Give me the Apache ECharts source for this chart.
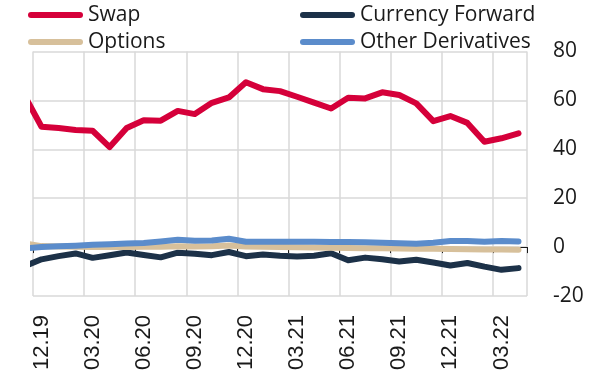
<!DOCTYPE html>
<html>
<head>
<meta charset="utf-8">
<script src="https://cdn.jsdelivr.net/npm/echarts@6/dist/echarts.min.js"></script>
<style>
  html, body { margin: 0; padding: 0; background: #ffffff; }
  #chart { width: 596px; height: 378px; }
</style>
</head>
<body>
<div id="chart"></div>
<script>
// Monthly positions (bn), 11.19 – 04.22; 11.19 sits just left of the visible range
const months = ['11.19','12.19','01.20','02.20','03.20','04.20','05.20','06.20','07.20','08.20','09.20','10.20','11.20','12.20',
  '01.21','02.21','03.21','04.21','05.21','06.21','07.21','08.21','09.21','10.21','11.21','12.21','01.22','02.22','03.22','04.22'];
const swap = [62, 49.2, 48.7, 47.9, 47.6, 40.9, 48.7, 51.9, 51.7, 55.7, 54.4, 59.0, 61.2, 67.4, 64.6, 63.8,
  61.5, 59.1, 56.7, 61.1, 60.8, 63.3, 62.2, 58.8, 51.5, 53.6, 50.8, 43.1, 44.5, 46.5];
const currencyForward = [-7.9, -5.0, -3.7, -2.6, -4.4, -3.3, -2.2, -3.2, -4.2, -2.3, -2.7, -3.3, -2.0, -3.7, -3.0, -3.5,
  -3.8, -3.5, -2.5, -5.4, -4.3, -5.0, -5.9, -5.2, -6.3, -7.5, -6.5, -8.0, -9.3, -8.6];
const options = [1.5, 0.4, 0.2, 0.1, 0.0, 0.0, 0.0, 0.1, 0.1, 0.3, 0.2, 0.3, 0.7, 0.2, 0.1, 0.0,
  -0.1, -0.2, -0.3, -0.4, -0.5, -0.5, -0.6, -0.7, -0.7, -0.8, -0.9, -1.0, -1.0, -1.1];
const otherDerivatives = [-0.6, 0.0, 0.3, 0.6, 1.0, 1.2, 1.5, 1.7, 2.3, 3.0, 2.6, 2.7, 3.4, 2.2, 2.2, 2.2,
  2.2, 2.2, 2.1, 2.1, 2.0, 1.8, 1.6, 1.4, 1.8, 2.5, 2.5, 2.2, 2.5, 2.3];
const yTicks = { min: -20, max: 80, step: 20 };

const axisMonths = months.slice(1);
const colors = {
  swap: '#d5003a',
  fwd: '#1c3148',
  opt: '#d7c09b',
  other: '#5b8ccb',
  grid: '#d9d9d9'
};

// x position: 12.19 -> 0; earlier months get negative positions and are clipped
const toPairs = vals => vals.map((v, i) => [i - 1, v]);

const lineIcon = 'path://M3,0 L52,0 A3,3 0 0 1 52,6 L3,6 A3,3 0 0 1 3,0 Z';
const legendText = { fontFamily: 'Open Sans', fontSize: 21, color: '#1a1a1a', lineHeight: 22 };

function lineSeries(name, vals, color) {
  return {
    name, type: 'line', xAxisIndex: 2, yAxisIndex: 0,
    data: toPairs(vals), symbol: 'none', clip: true,
    lineStyle: { color, width: 6, cap: 'round', join: 'round' },
    itemStyle: { color }
  };
}

const chart = echarts.init(document.getElementById('chart'), null, { renderer: 'canvas' });
chart.setOption({
  animation: false,
  grid: { left: 33, right: 69, top: 51.5, bottom: 82, containLabel: false },
  legend: [
    {
      orient: 'vertical', left: 28, top: 4, padding: 0, itemWidth: 55, itemHeight: 6, itemGap: 5,
      icon: lineIcon, textStyle: legendText, selectedMode: false,
      data: ['Swap', 'Options']
    },
    {
      orient: 'vertical', left: 300, top: 4, padding: 0, itemWidth: 55, itemHeight: 6, itemGap: 5,
      icon: lineIcon, textStyle: legendText, selectedMode: false,
      data: ['Currency Forward', 'Other Derivatives']
    }
  ],
  xAxis: [
    {
      // month labels and vertical grid lines
      type: 'category', data: axisMonths, boundaryGap: true, position: 'bottom',
      axisLine: { show: false, onZero: false },
      axisTick: { show: false },
      axisLabel: {
        interval: 2, rotate: 90, margin: 19,
        fontFamily: 'Liberation Sans', fontSize: 22, color: '#1a1a1a'
      },
      splitLine: { show: true, interval: 2, lineStyle: { color: colors.grid, width: 1.5 } }
    },
    {
      // axis line through zero with quarterly ticks
      type: 'category', data: axisMonths, boundaryGap: true, position: 'bottom',
      axisLine: { show: true, onZero: true, lineStyle: { color: '#1a1a1a', width: 1 } },
      axisTick: { show: true, interval: 2, length: 6, lineStyle: { color: '#1a1a1a', width: 1 } },
      axisLabel: { show: false },
      splitLine: { show: false }
    },
    {
      // numeric month scale used by the series
      type: 'value', show: false, min: -0.5, max: axisMonths.length - 0.5,
      axisLine: { onZero: false }, splitLine: { show: false }
    }
  ],
  yAxis: [{
    type: 'value', position: 'right',
    min: yTicks.min, max: yTicks.max, interval: yTicks.step,
    axisLine: { show: false, onZero: false },
    axisTick: { show: false },
    axisLabel: { margin: 26, fontFamily: 'Open Sans', fontSize: 21, color: '#1a1a1a' },
    splitLine: { show: true, lineStyle: { color: colors.grid, width: 1.5 } }
  }],
  series: [
    lineSeries('Swap', swap, colors.swap),
    lineSeries('Currency Forward', currencyForward, colors.fwd),
    lineSeries('Options', options, colors.opt),
    lineSeries('Other Derivatives', otherDerivatives, colors.other)
  ]
});
</script>
</body>
</html>
